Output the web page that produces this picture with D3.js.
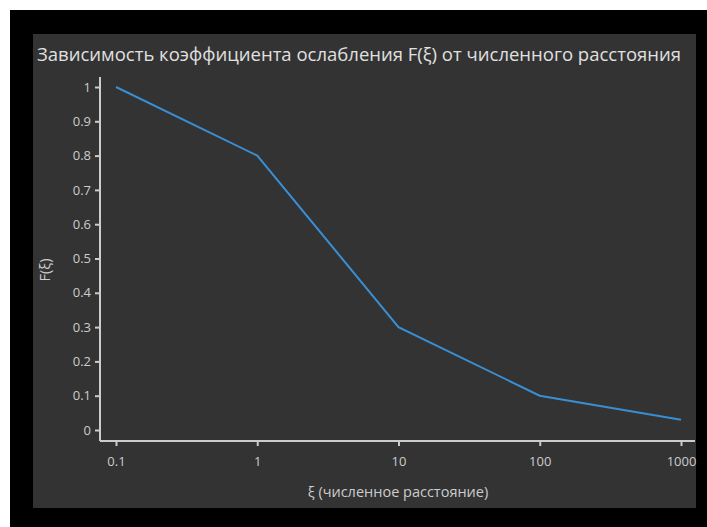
<!DOCTYPE html>
<html><head><meta charset="utf-8">
<script src="https://cdn.jsdelivr.net/npm/d3@7"></script>
<style>
html,body{margin:0;padding:0;background:#fff;}
svg{display:block;font-family:"Open Sans",sans-serif;}
</style></head>
<body>
<svg id="c" width="707" height="527"></svg>
<script>
const xValues = [0.1, 1, 10, 100, 1000];
const yValues = [1, 0.8, 0.3, 0.1, 0.03];
const xTicks = [0.1, 1, 10, 100, 1000];
const yTicks = [0, 0.1, 0.2, 0.3, 0.4, 0.5, 0.6, 0.7, 0.8, 0.9, 1];
const title = "Зависимость коэффициента ослабления F(ξ) от численного расстояния";
const xLabel = "ξ (численное расстояние)";
const yLabel = "F(ξ)";

const svg = d3.select("#c");
svg.append("rect").attr("x",10).attr("y",10).attr("width",697).attr("height",517).attr("fill","#000");
svg.append("rect").attr("x",33).attr("y",34).attr("width",663).attr("height",474).attr("fill","#333333");

const x = d3.scaleLog().domain([0.1,1000]).range([116,681]);
const y = d3.scaleLinear().domain([0,1]).range([430,87]);

const tc = "#cccccc";
svg.append("text").attr("x",359).attr("y",61).attr("text-anchor","middle")
  .attr("fill","#e0e0e0").attr("font-size",18.5).attr("textLength",644).attr("lengthAdjust","spacingAndGlyphs").text(title);

const gx = svg.append("g").attr("transform","translate(0,441)")
  .call(d3.axisBottom(x).tickValues(xTicks).tickFormat(d=>String(d)).tickSize(5).tickSizeOuter(0));
const gy = svg.append("g").attr("transform","translate(100,0)")
  .call(d3.axisLeft(y).tickValues(yTicks).tickFormat(d=>String(+d.toFixed(1))).tickSize(5).tickSizeOuter(0));
[gx,gy].forEach(g=>{
  g.select(".domain").attr("stroke",tc).attr("stroke-width",2);
  g.selectAll(".tick line").attr("stroke",tc).attr("stroke-width",2);
  g.selectAll(".tick text").attr("fill",tc).attr("font-size",13).attr("font-family","Open Sans, sans-serif");
});
gx.select(".domain").attr("d","M100,0H695");
gy.select(".domain").attr("d","M0,77V441");
gx.selectAll(".tick text").attr("y",12).attr("dy","1em");
gy.selectAll(".tick text").attr("x",-9);

svg.append("text").attr("x",398).attr("y",497).attr("text-anchor","middle")
  .attr("fill",tc).attr("font-size",14.5).text(xLabel);
svg.append("text").attr("transform","translate(50,270) rotate(-90)").attr("text-anchor","middle")
  .attr("fill",tc).attr("font-size",14.5).text(yLabel);

svg.append("path").datum(xValues.map((v,i)=>[v,yValues[i]]))
  .attr("fill","none").attr("stroke","#3a8ed4").attr("stroke-width",2)
  .attr("d", d3.line().x(d=>x(d[0])).y(d=>y(d[1])));
</script>
</body></html>
